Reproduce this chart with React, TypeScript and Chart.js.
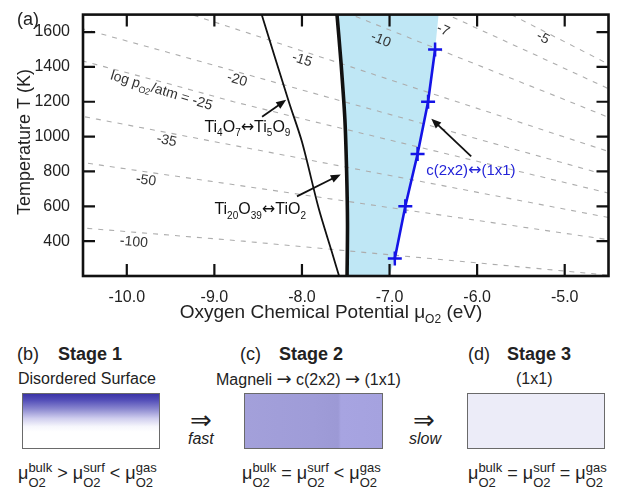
import React, { useEffect, useRef } from 'react';
import { Chart, registerables } from 'chart.js';

Chart.register(...registerables);

const FONT = '"Liberation Sans", Arial, Helvetica, sans-serif';
const SYM = '"DejaVu Sans", sans-serif';

// ---- axis ticks ----
const xTickValues = [-10, -9, -8, -7, -6, -5];
const yTickValues = [400, 600, 800, 1000, 1200, 1400, 1600];

// ---- isobars: [mu_O2 (eV), T (K)] for log pO2/atm = ... ----
const isoM100 = [[-4.39, 200], [-6.53, 300], [-8.67, 400], [-11.1, 500]];
const isoM50 = [[-3.31, 300], [-4.39, 400], [-5.74, 500], [-7.1, 600], [-8.45, 700], [-9.81, 800], [-11.16, 900]];
const isoM35 = [[-4.13, 500], [-5.17, 600], [-6.2, 700], [-7.24, 800], [-8.27, 900], [-9.3, 1000], [-10.34, 1100], [-11.37, 1200]];
const isoM25 = [[-3.88, 600], [-4.7, 700], [-5.52, 800], [-6.34, 900], [-7.16, 1000], [-7.98, 1100], [-8.78, 1200], [-9.5, 1300], [-10.25, 1400], [-11.0, 1500]];
const isoM20 = [[-4.67, 800], [-5.38, 900], [-6.09, 1000], [-6.8, 1100], [-7.52, 1200], [-8.23, 1300], [-8.94, 1400], [-9.65, 1500], [-10.37, 1600], [-11.08, 1700]];
const isoM15 = [[-4.41, 900], [-5.02, 1000], [-5.62, 1100], [-6.23, 1200], [-6.84, 1300], [-7.44, 1400], [-8.05, 1500], [-8.65, 1600], [-9.26, 1700]];
const isoM10 = [[-3.95, 1000], [-4.45, 1100], [-4.94, 1200], [-5.44, 1300], [-5.94, 1400], [-6.44, 1500], [-6.94, 1600], [-7.44, 1700]];
const isoM7 = [[-4.17, 1200], [-4.61, 1300], [-5.04, 1400], [-5.47, 1500], [-5.91, 1600], [-6.34, 1700]];
const isoM5 = [[-4.44, 1400], [-4.83, 1500], [-5.22, 1600], [-5.61, 1700]];
const isobarSeries = [isoM100, isoM50, isoM35, isoM25, isoM20, isoM15, isoM10, isoM7, isoM5];

// ---- phase boundaries ----
const boundaryTi4O7Ti5O9 = [[-8.46, 1700], [-8.15, 1200], [-8.0, 970], [-7.81, 590], [-7.66, 340], [-7.57, 190]];
const boundaryTi20O39TiO2 = [[-7.6, 1700], [-7.555, 1430], [-7.51, 1100], [-7.49, 800], [-7.48, 500], [-7.485, 200]];

// ---- c(2x2) <-> (1x1) transition (measured points) ----
const surfaceMu = [-6.94, -6.82, -6.68, -6.56, -6.48];
const surfaceT = [300, 600, 900, 1200, 1500];
// right edge of the shaded c(2x2) region
const shadeRightEdge = [[-7.0, 200], [-6.94, 300], [-6.82, 600], [-6.68, 900], [-6.56, 1200], [-6.48, 1500], [-6.44, 1700]];

// ---- isobar labels ----
const isoLabelText = ['-100', '-50', '-35', '-20', '-15', '-10', '-7', '-5'];
const isoLabelMu = [-9.92, -9.78, -9.545, -8.74, -8.0, -7.1, -6.39, -5.25];
const isoLabelT = [394, 749, 977, 1326, 1440, 1554, 1611, 1566];
const isoLabelAngle = [5, 8, 12, 16, 18, 22, 25, 27];

type Part = { t: string; sub?: boolean; size?: number; fam?: string };

const xy = (pts: number[][]) => pts.map(([m, t]) => ({ x: m, y: t }));

function partFont(p: Part, base: number) {
  const s = p.sub ? Math.round(base * 0.62) : p.size ?? base;
  return `${s}px ${p.fam ?? FONT}`;
}

function measureParts(ctx: CanvasRenderingContext2D, parts: Part[], base: number) {
  let w = 0;
  for (const p of parts) {
    ctx.font = partFont(p, base);
    w += ctx.measureText(p.t).width;
  }
  return w;
}

function drawParts(ctx: CanvasRenderingContext2D, parts: Part[], x: number, baseline: number, base: number, align: 'left' | 'center', color: string) {
  let cx = align === 'center' ? x - measureParts(ctx, parts, base) / 2 : x;
  ctx.fillStyle = color;
  ctx.textAlign = 'left';
  ctx.textBaseline = 'alphabetic';
  for (const p of parts) {
    ctx.font = partFont(p, base);
    const dy = p.sub ? base * 0.28 : 0;
    ctx.fillText(p.t, cx, baseline + dy);
    cx += ctx.measureText(p.t).width;
  }
}

function arrow(ctx: CanvasRenderingContext2D, x1: number, y1: number, x2: number, y2: number) {
  const ang = Math.atan2(y2 - y1, x2 - x1);
  const L = 10, W = 4;
  ctx.beginPath();
  ctx.moveTo(x1, y1);
  ctx.lineTo(x2 - Math.cos(ang) * L * 0.8, y2 - Math.sin(ang) * L * 0.8);
  ctx.stroke();
  ctx.beginPath();
  ctx.moveTo(x2, y2);
  ctx.lineTo(x2 - Math.cos(ang) * L - Math.sin(ang) * W, y2 - Math.sin(ang) * L + Math.cos(ang) * W);
  ctx.lineTo(x2 - Math.cos(ang) * L + Math.sin(ang) * W, y2 - Math.sin(ang) * L - Math.cos(ang) * W);
  ctx.closePath();
  ctx.fill();
}

const ARR: Part = { t: '↔', size: 16, fam: SYM };

const overlayPlugin = {
  id: 'overlay',
  afterDatasetsDraw(chart: any) {
    const { ctx, chartArea: a } = chart;
    const sx = chart.scales.x;
    const sy = chart.scales.y;
    const px = (m: number) => sx.getPixelForValue(m);
    const py = (t: number) => sy.getPixelForValue(t);
    ctx.save();

    // isobar labels
    ctx.fillStyle = '#333';
    for (let i = 0; i < isoLabelText.length; i++) {
      ctx.save();
      ctx.translate(px(isoLabelMu[i]), py(isoLabelT[i]));
      ctx.rotate((isoLabelAngle[i] * Math.PI) / 180);
      ctx.font = `14px ${FONT}`;
      ctx.textAlign = 'center';
      ctx.textBaseline = 'middle';
      ctx.fillText(isoLabelText[i], 0, 0);
      ctx.restore();
    }
    // "log pO2/atm = -25"
    ctx.save();
    ctx.translate(px(-9.6), py(1269));
    ctx.rotate((17 * Math.PI) / 180);
    drawParts(ctx, [{ t: 'log p' }, { t: 'O2', sub: true }, { t: '/atm = -25' }], 0, 5, 14, 'center', '#333');
    ctx.restore();

    // annotations
    drawParts(ctx, [{ t: 'Ti' }, { t: '4', sub: true }, { t: 'O' }, { t: '7', sub: true }, ARR, { t: 'Ti' }, { t: '5', sub: true }, { t: 'O' }, { t: '9', sub: true }], px(-9.114), py(1029), 16, 'left', '#111');
    drawParts(ctx, [{ t: 'Ti' }, { t: '20', sub: true }, { t: 'O' }, { t: '39', sub: true }, ARR, { t: 'TiO' }, { t: '2', sub: true }], px(-9.0), py(554), 16, 'left', '#111');
    drawParts(ctx, [{ t: 'c(2x2)' }, ARR, { t: '(1x1)' }], px(-6.58), py(777), 15, 'left', '#2424d8');

    // arrows
    ctx.strokeStyle = '#111';
    ctx.fillStyle = '#111';
    ctx.lineWidth = 1.8;
    arrow(ctx, px(-8.455), py(1114), px(-8.18), py(1211));
    arrow(ctx, px(-8.057), py(657), px(-7.557), py(783));
    arrow(ctx, px(-6.068), py(886), px(-6.523), py(1103));

    // ticks (inward, all four sides)
    ctx.strokeStyle = '#111';
    ctx.lineWidth = 2.2;
    ctx.beginPath();
    for (const v of xTickValues) {
      const x = px(v);
      ctx.moveTo(x, a.bottom); ctx.lineTo(x, a.bottom - 12);
      ctx.moveTo(x, a.top); ctx.lineTo(x, a.top + 12);
    }
    for (const v of yTickValues) {
      const y = py(v);
      ctx.moveTo(a.left, y); ctx.lineTo(a.left + 12, y);
      ctx.moveTo(a.right, y); ctx.lineTo(a.right - 12, y);
    }
    ctx.stroke();
    // frame
    ctx.lineWidth = 2.6;
    ctx.strokeRect(a.left, a.top, a.right - a.left, a.bottom - a.top);

    // axis titles
    ctx.save();
    ctx.translate(25, 142);
    ctx.rotate(-Math.PI / 2);
    ctx.font = `18px ${FONT}`;
    ctx.fillStyle = '#222';
    ctx.textAlign = 'center';
    ctx.textBaseline = 'middle';
    ctx.fillText('Temperature T (K)', 0, 0);
    ctx.restore();
    drawParts(ctx, [{ t: 'Oxygen Chemical Potential μ' }, { t: 'O2', sub: true }, { t: ' (eV)' }], 331, 318, 19, 'center', '#222');
    // panel label
    drawParts(ctx, [{ t: '(a)' }], 17, 25, 18, 'left', '#222');
    ctx.restore();
  },
};

function MuTerm({ sup }: { sup: string }) {
  return (
    <span style={{ whiteSpace: 'nowrap' }}>
      <span>μ</span>
      <span style={{ display: 'inline-block', verticalAlign: '-8px', fontSize: 13, lineHeight: '15px', textAlign: 'left' }}>
        <span style={{ display: 'block' }}>{sup}</span>
        <span style={{ display: 'block' }}>O2</span>
      </span>
    </span>
  );
}

const abs = (left: number, top: number, extra: React.CSSProperties = {}): React.CSSProperties => ({
  position: 'absolute', left, top, whiteSpace: 'nowrap', ...extra,
});

const Sym = ({ c, size }: { c: string; size: number }) => (
  <span style={{ fontFamily: SYM, fontSize: size, lineHeight: '16px' }}>{c}</span>
);

export default function App() {
  const ref = useRef<HTMLCanvasElement>(null);
  useEffect(() => {
    const isoDatasets = isobarSeries.map((s) => ({
      data: xy(s), showLine: true, borderColor: '#adadad', borderWidth: 1.1, borderDash: [5, 6],
      pointRadius: 0, fill: false, order: 5,
    }));
    const shadePoly = [...boundaryTi20O39TiO2, ...shadeRightEdge];
    const chart = new Chart(ref.current!, {
      type: 'scatter',
      data: {
        datasets: [
          { data: xy(shadePoly), showLine: true, fill: 'shape', backgroundColor: '#bfe7f5', borderWidth: 0, borderColor: 'rgba(0,0,0,0)', pointRadius: 0, order: 10 } as any,
          ...isoDatasets,
          { data: xy(boundaryTi4O7Ti5O9), showLine: true, borderColor: '#111', borderWidth: 1.8, pointRadius: 0, tension: 0.3, order: 3 },
          { data: xy(boundaryTi20O39TiO2), showLine: true, borderColor: '#111', borderWidth: 3.6, pointRadius: 0, tension: 0.3, order: 2 },
          {
            data: surfaceMu.map((m, i) => ({ x: m, y: surfaceT[i] })), showLine: true, borderColor: '#1414e6', borderWidth: 2.6,
            pointStyle: 'cross', pointRadius: 7, pointBorderWidth: 2.5, pointBorderColor: '#1414e6', pointBackgroundColor: '#1414e6', order: 1,
          },
        ],
      },
      options: {
        responsive: false,
        animation: false,
        layout: { padding: { left: 0, right: 8, top: 13, bottom: 0 } },
        plugins: { legend: { display: false }, tooltip: { enabled: false } },
        scales: {
          x: {
            type: 'linear', min: -10.5, max: -4.5,
            afterBuildTicks: (s: any) => { s.ticks = xTickValues.map((v) => ({ value: v })); },
            afterFit: (s: any) => { s.height = 54; },
            grid: { display: false }, border: { display: false },
            ticks: { padding: 4, color: '#222', font: { family: FONT, size: 16 }, maxRotation: 0, autoSkip: false, callback: (v: any) => Number(v).toFixed(1) },
          },
          y: {
            type: 'linear', min: 200, max: 1700,
            afterBuildTicks: (s: any) => { s.ticks = yTickValues.map((v) => ({ value: v })); },
            afterFit: (s: any) => { s.width = 83; },
            grid: { display: false }, border: { display: false },
            ticks: { padding: 5, color: '#222', font: { family: FONT, size: 16 }, autoSkip: false, callback: (v: any) => String(v) },
          },
        },
      },
      plugins: [overlayPlugin],
    } as any);
    return () => chart.destroy();
  }, []);

  const rectBase: React.CSSProperties = { position: 'absolute', top: 393, height: 56, border: '1px solid #6a6a6a', boxSizing: 'border-box' };

  return (
    <div style={{ position: 'absolute', left: 0, top: 0, width: 618, height: 487, background: '#fff', overflow: 'hidden', fontFamily: FONT, color: '#222' }}>
      <canvas ref={ref} width={618} height={330} style={{ position: 'absolute', left: 0, top: 0, width: 618, height: 330 }} />

      <div style={abs(17, 345, { fontSize: 18, lineHeight: '18px' })}>(b)</div>
      <div style={abs(58, 345, { fontSize: 18, lineHeight: '18px', fontWeight: 'bold' })}>Stage 1</div>
      <div style={abs(240, 345, { fontSize: 18, lineHeight: '18px' })}>(c)</div>
      <div style={abs(279, 345, { fontSize: 18, lineHeight: '18px', fontWeight: 'bold' })}>Stage 2</div>
      <div style={abs(468, 345, { fontSize: 18, lineHeight: '18px' })}>(d)</div>
      <div style={abs(507, 345, { fontSize: 18, lineHeight: '18px', fontWeight: 'bold' })}>Stage 3</div>

      <div style={abs(18, 371, { fontSize: 16, lineHeight: '16px' })}>Disordered Surface</div>
      <div style={abs(216, 371, { fontSize: 16, lineHeight: '16px' })}>
        Magneli <Sym c="→" size={18} /> c(2x2) <Sym c="→" size={18} /> (1x1)
      </div>
      <div style={abs(516, 371, { fontSize: 16, lineHeight: '16px' })}>(1x1)</div>

      <div style={{ ...rectBase, left: 22, width: 138, background: 'linear-gradient(to bottom, #3a33a6 0%, #5550b9 12%, #8c89d0 28%, #cfcdee 45%, #f6f6fc 60%, #ffffff 70%)' }} />
      <div style={{ ...rectBase, left: 244, width: 139, background: 'linear-gradient(to right, #a3a0da 0%, #9f9cd8 50%, #9c99d5 68%, #a7a4e1 70%, #a5a2df 100%)' }} />
      <div style={{ ...rectBase, left: 467, width: 138, background: '#ececf8' }} />

      <div style={abs(185, 407, { fontSize: 26, lineHeight: '26px', width: 32, textAlign: 'center', fontFamily: SYM })}>⇒</div>
      <div style={abs(188, 431, { fontSize: 16, lineHeight: '16px', fontStyle: 'italic' })}>fast</div>
      <div style={abs(408, 407, { fontSize: 26, lineHeight: '26px', width: 32, textAlign: 'center', fontFamily: SYM })}>⇒</div>
      <div style={abs(409, 431, { fontSize: 16, lineHeight: '16px', fontStyle: 'italic' })}>slow</div>

      <div style={abs(18, 460, { fontSize: 18, lineHeight: '18px' })}>
        <MuTerm sup="bulk" /> &gt; <MuTerm sup="surf" /> &lt; <MuTerm sup="gas" />
      </div>
      <div style={abs(242, 460, { fontSize: 18, lineHeight: '18px' })}>
        <MuTerm sup="bulk" /> = <MuTerm sup="surf" /> &lt; <MuTerm sup="gas" />
      </div>
      <div style={abs(468, 460, { fontSize: 18, lineHeight: '18px' })}>
        <MuTerm sup="bulk" /> = <MuTerm sup="surf" /> = <MuTerm sup="gas" />
      </div>
    </div>
  );
}
